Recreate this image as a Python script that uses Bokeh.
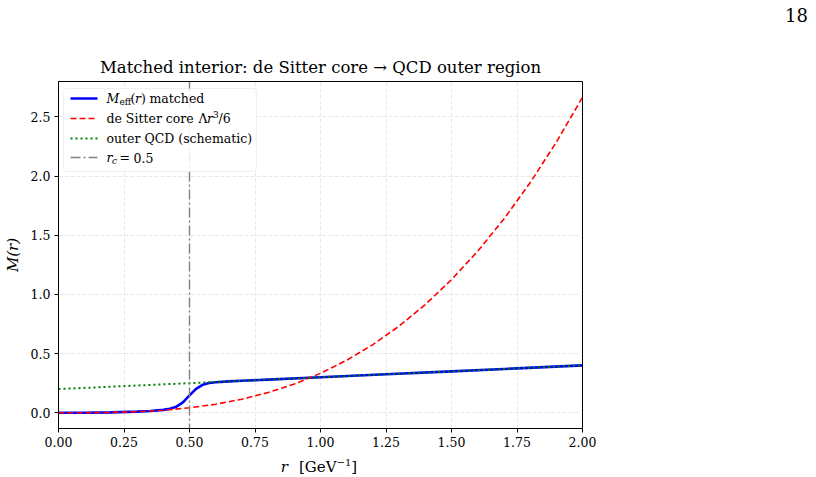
from bokeh.plotting import figure
from bokeh.layouts import column
from bokeh.models import (Range1d, FixedTicker, PrintfTickFormatter, Span, Label,
                          BoxAnnotation, Arrow, Div)
from bokeh.embed import file_html
from bokeh.resources import INLINE

# r grid and de Sitter core mass  M = Lambda r^3 / 6
r_core = [0.0, 0.1, 0.2, 0.3, 0.4, 0.5, 0.6, 0.7, 0.8, 0.9, 1.0,
          1.1, 1.2, 1.3, 1.4, 1.5, 1.6, 1.7, 1.8, 1.9, 2.0]
m_core = [0.0, 0.0003, 0.0027, 0.009, 0.0213, 0.0417, 0.072, 0.1143, 0.1707, 0.243, 0.3333,
          0.4437, 0.576, 0.7323, 0.9147, 1.125, 1.3653, 1.6377, 1.944, 2.2863, 2.6667]

# schematic outer QCD branch
r_outer = [0.0, 0.5, 1.0, 1.5, 2.0]
m_outer = [0.20, 0.25, 0.30, 0.35, 0.40]

# matched effective mass
r_match = [0.0, 0.1, 0.2, 0.3, 0.35, 0.4, 0.425, 0.45, 0.475, 0.5, 0.525, 0.55,
           0.575, 0.6, 0.65, 0.7, 0.8, 1.0, 1.25, 1.5, 1.75, 2.0]
m_match = [0.0, 0.0003, 0.0027, 0.009, 0.0146, 0.024, 0.033, 0.051, 0.088, 0.146, 0.202, 0.236,
           0.251, 0.258, 0.265, 0.270, 0.280, 0.300, 0.325, 0.350, 0.375, 0.400]

r_c = 0.5

x_ticks = [0.0, 0.25, 0.5, 0.75, 1.0, 1.25, 1.5, 1.75, 2.0]
y_ticks = [0.0, 0.5, 1.0, 1.5, 2.0, 2.5]

SERIF = "DejaVu Serif"
FRAME_W, FRAME_H = 524, 347
TOP_H, BOTTOM_H = 30, 24
BORDER_TOP, BORDER_BOTTOM = 51, 25
PLOT_H = BORDER_TOP + FRAME_H + BORDER_BOTTOM

p = figure(width=816, height=PLOT_H, frame_width=FRAME_W, frame_height=FRAME_H,
           min_border_left=57, min_border_right=235,
           min_border_top=BORDER_TOP, min_border_bottom=BORDER_BOTTOM,
           x_range=Range1d(0, 2), y_range=Range1d(-0.1333, 2.8),
           output_backend="svg", toolbar_location=None,
           title="Matched interior: de Sitter core \u2192 QCD outer region")

p.title.text_font = SERIF
p.title.text_font_size = "16.5px"
p.title.text_font_style = "normal"
p.title.align = "center"
p.title.text_color = "black"

p.outline_line_color = "black"
p.outline_line_width = 1
p.outline_line_alpha = 1
p.background_fill_color = "white"
p.border_fill_color = "white"

for ax, ticks, fmt in ((p.xaxis[0], x_ticks, "%.2f"), (p.yaxis[0], y_ticks, "%.1f")):
    ax.ticker = FixedTicker(ticks=ticks)
    ax.formatter = PrintfTickFormatter(format=fmt)
    ax.major_label_text_font = SERIF
    ax.major_label_text_font_size = "12.5px"
    ax.major_label_text_color = "black"
    ax.major_tick_out = 4
    ax.major_tick_in = 0
    ax.minor_tick_out = 0
    ax.minor_tick_in = 0
    ax.axis_line_color = "black"
    ax.major_tick_line_color = "black"
    ax.major_label_standoff = 4

p.yaxis.axis_label = "M(r)"
p.yaxis.axis_label_text_font = SERIF
p.yaxis.axis_label_text_font_size = "15px"
p.yaxis.axis_label_text_font_style = "italic"
p.yaxis.axis_label_text_color = "black"
p.yaxis.axis_label_standoff = 6

p.xgrid.ticker = FixedTicker(ticks=x_ticks)
p.ygrid.ticker = FixedTicker(ticks=y_ticks)
p.grid.grid_line_color = "#d8d8d8"
p.grid.grid_line_dash = "4 2"
p.grid.grid_line_alpha = 0.6

# curves
p.line(r_match, m_match, line_color="#0000ff", line_width=2.6)
p.line(r_core, m_core, line_color="#ff0000", line_width=1.6, line_dash="6 3")
p.line(r_outer, m_outer, line_color="#008000", line_width=2.0, line_dash="2 3")
p.add_layout(Span(location=r_c, dimension="height", line_color="gray",
                  line_width=1.4, line_dash="10 3 2 3"))


def txt(x, y, s, size="12.5px", style="normal", align="left", baseline="middle"):
    p.add_layout(Label(x=x, y=y, x_units="screen", y_units="screen", text=s,
                       text_font=SERIF, text_font_size=size, text_font_style=style,
                       text_align=align, text_baseline=baseline, text_color="black"))


# legend box and entries
p.add_layout(BoxAnnotation(left=5, right=198, top=340, bottom=257,
                           left_units="screen", right_units="screen",
                           top_units="screen", bottom_units="screen",
                           fill_color="white", fill_alpha=0.85,
                           line_color="#cccccc", line_width=1, border_radius=3))

rows = [330, 310, 290, 271]
styles = [("#0000ff", 2.6, "solid"), ("#ff0000", 1.6, "6 3"),
          ("#008000", 2.0, "2 3"), ("gray", 1.4, "10 3 2 3")]
for y, (c, w, d) in zip(rows, styles):
    p.add_layout(Arrow(x_start=12, y_start=y, x_end=39, y_end=y,
                       start_units="screen", end_units="screen", end=None,
                       line_color=c, line_width=w, line_dash=d))

txt(48, rows[0], "M", style="italic")
txt(61, rows[0] - 3, "eff", size="9px")
txt(72, rows[0], "(")
txt(76.5, rows[0], "r", style="italic")
txt(82.5, rows[0], ")")
txt(91, rows[0], "matched")

txt(48, rows[1], "de Sitter core")
txt(140, rows[1], "\u039b")
txt(148.5, rows[1], "r", style="italic")
txt(154.5, rows[1] + 4, "3", size="9px")
txt(160, rows[1], "/6")

txt(48, rows[2], "outer QCD (schematic)")

txt(48, rows[3], "r", style="italic")
txt(53.5, rows[3] - 3, "c", size="9px", style="italic")
txt(61, rows[3], "=")
txt(75, rows[3], "0.5")

# page number and x-axis label as HTML text around the figure
page_no = Div(text=f'<div style="font-family:{SERIF}; font-size:18px; line-height:{TOP_H + 2}px; '
                   f'width:808px; text-align:right; color:black;">18</div>',
              width=816, height=TOP_H, margin=(0, 0, 0, 0))

x_label = Div(text=f'<div style="font-family:{SERIF}; font-size:15px; line-height:20px; '
                   f'width:{FRAME_W}px; margin-left:57px; text-align:center; color:black;">'
                   '<i>r</i><span style="margin-left:11px;">[GeV<sup style="font-size:10px;">'
                   '\u22121</sup>]</span></div>',
              width=816, height=BOTTOM_H, margin=(0, 0, 0, 0))

layout = column(page_no, p, x_label, spacing=0)

open("out.html", "w").write(file_html(layout, INLINE))
